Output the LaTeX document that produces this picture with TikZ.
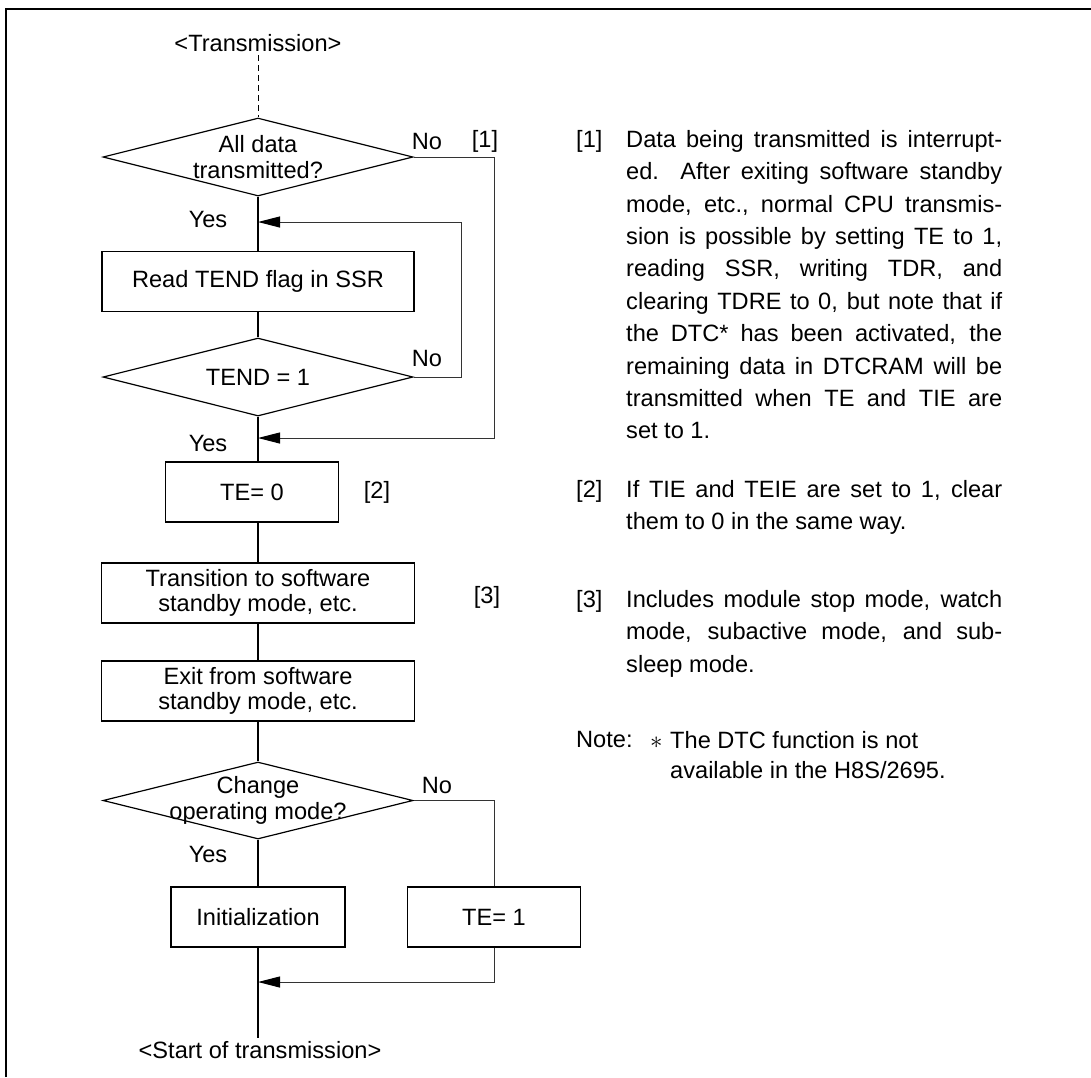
\documentclass[tikz,border=0pt]{standalone}
\usepackage{fontspec}
\setmainfont{Liberation Sans}
\usetikzlibrary{arrows.meta,shapes.geometric}
\tolerance=10000
\hbadness=10000
\hyphenpenalty=10000

\tikzset{
  flowbox/.style={draw,line width=1.2pt,minimum height=60pt,inner sep=0pt,align=center},
  decision/.style={draw,diamond,line width=1.2pt,minimum width=310pt,minimum height=78pt,inner sep=0pt},
  loopline/.style={line width=1pt,black!80},
  backtip/.style={-{Triangle[length=22pt,width=11pt,black]}},
  notepar/.style={anchor=north west,inner sep=0pt,text width=376pt,align=justify,
    font=\fontsize{23.6}{32.4}\selectfont},
  notemark/.style={anchor=north west,inner sep=0pt},
}

\begin{document}
\begin{tikzpicture}[x=1pt,y=-1pt,font=\fontsize{23.6}{25.5}\selectfont]
\useasboundingbox (0,0) rectangle (1091,1077);
\draw[line width=1.6pt] (6,1077) -- (6,9) -- (1091,9);

% flow chart
\node (start) at (258,43) {<Transmission>};
\node[decision,label={[align=center]center:All data\\transmitted?}] (alldata) at (258,157) {};
\node[flowbox,minimum width=312pt] (readtend) at (258,281.5) {Read TEND flag in SSR};
\node[decision,label={center:TEND = 1}] (tendone) at (258,377) {};
\node[flowbox,minimum width=173pt] (teclear) at (252,492) {TE= 0};
\node[flowbox,minimum width=313pt] (transit) at (258,593) {Transition to software\\standby mode, etc.};
\node[flowbox,minimum width=313pt] (exitsb) at (258,691) {Exit from software\\standby mode, etc.};
\node[decision,minimum height=77pt,label={[align=center]center:Change\\operating mode?}] (chmode) at (258,800.5) {};
\node[flowbox,minimum width=174pt] (init) at (258,917) {Initialization};
\node[flowbox,minimum width=173pt] (teset) at (494,917) {TE= 1};
\node (finish) at (260,1050) {<Start of transmission>};

\node (no1) at (427,141) {No};
\node (br1) at (485,141) {[1]};
\node (yes1) at (208,219) {Yes};
\node (no2) at (427,358) {No};
\node (yes2) at (208,443) {Yes};
\node (br2) at (377,492) {[2]};
\node (br3) at (487,597) {[3]};
\node (no3) at (437,785) {No};
\node (yes3) at (208,854) {Yes};

\coordinate (back1) at (258,222);
\coordinate (back2) at (258,438);
\coordinate (back3) at (258,982);

\draw[dashed,dash pattern=on 6pt off 4pt,line width=1pt] (start.south) -- (alldata.north);
\draw[line width=1.2pt] (alldata.south) -- (readtend.north);
\draw[line width=1.2pt] (readtend.south) -- (tendone.north);
\draw[line width=1.2pt] (tendone.south) -- (tendone.south |- teclear.north);
\draw[line width=1.2pt] (teclear.south -| transit.north) -- (transit.north);
\draw[line width=1.2pt] (transit.south) -- (exitsb.north);
\draw[line width=1.2pt] (exitsb.south) -- (chmode.north);
\draw[line width=1.2pt] (chmode.south) -- (init.north);
\draw[line width=1.2pt] (init.south) -- (init.south |- finish.north);

\draw[loopline,backtip] (alldata.east) -- ++(81,0) |- (back2);
\draw[loopline,backtip] (tendone.east) -- ++(48,0) |- (back1);
\draw[loopline] (chmode.east) -| (teset.north);
\draw[loopline,backtip] (teset.south) |- (back3);

% notes
\node[notemark] (m1) at (576,130) {[1]};
\node[notepar] (t1) at (626,130) {Data being transmitted is interrupt-\linebreak
ed.\ \ After exiting software standby\linebreak
mode, etc., normal CPU transmis-\linebreak
sion is possible by setting TE to 1,\linebreak
reading SSR, writing TDR, and\linebreak
clearing TDRE to 0, but note that if\linebreak
the DTC* has been activated, the\linebreak
remaining data in DTCRAM will be\linebreak
transmitted when TE and TIE are\linebreak
set to 1.};
\node[notemark] (m2) at (576,480) {[2]};
\node[notepar] (t2) at (626,480) {If TIE and TEIE are set to 1, clear\linebreak
them to 0 in the same way.};
\node[notemark] (m3) at (576,590) {[3]};
\node[notepar] (t3) at (626,590) {Includes module stop mode, watch\linebreak
mode, subactive mode, and sub-\linebreak
sleep mode.};
\node[notemark] (mnote) at (576,731) {Note:};
\node[anchor=base west,inner sep=0pt] (star) at (650,748.4) {$\ast$};
\node[notemark,align=left,font=\fontsize{23.6}{30}\selectfont] (tnote) at (670,731) {The DTC function is not\\available in the H8S/2695.};
\end{tikzpicture}
\end{document}
